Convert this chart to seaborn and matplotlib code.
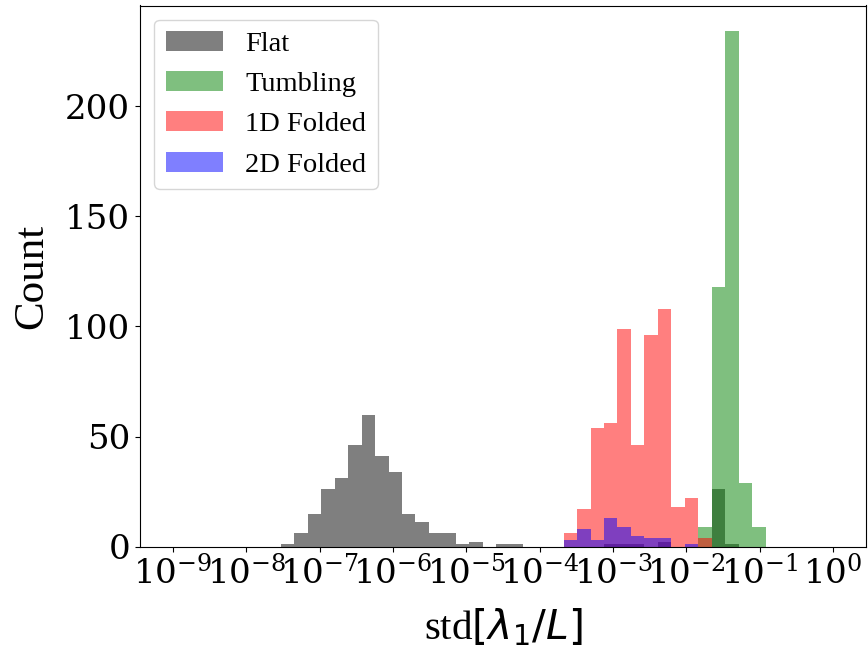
import numpy as np
import pandas as pd
import matplotlib
matplotlib.use("Agg")
import matplotlib.pyplot as plt
from matplotlib.ticker import NullLocator
import seaborn as sns

# Log-spaced bins: 50 edges from 1e-9 to 1e0 (given as log10 values)
log_edges = np.linspace(-9, 0, 50)
centers = 10 ** ((log_edges[:-1] + log_edges[1:]) / 2)

# Counts per bin for each state (49 bins)
flat = np.zeros(49)
flat[8:26] = [1, 6, 15, 26, 31, 46, 60, 41, 34, 15, 11, 6, 6, 1, 2, 0, 1, 1]
flat[32:37] = [1, 1, 1, 0, 2]
flat[40:42] = [26, 1]

tumbling = np.zeros(49)
tumbling[39:44] = [9, 118, 234, 29, 9]

folded_1d = np.zeros(49)
folded_1d[29:40] = [6, 17, 54, 56, 99, 46, 96, 108, 18, 22, 4]

folded_2d = np.zeros(49)
folded_2d[29:39] = [3, 8, 3, 13, 9, 5, 4, 4, 0, 1]

labels = ["Flat", "Tumbling", "1D Folded", "2D Folded"]
colors = ["k", "g", "r", "b"]
series = [flat, tumbling, folded_1d, folded_2d]
xtick_exponents = np.arange(-9, 1)

plt.rcParams["font.family"] = ["Liberation Serif", "DejaVu Serif"]

fig, ax = plt.subplots(figsize=(8.68, 6.51), dpi=100)
fig.subplots_adjust(left=140 / 868, right=866 / 868, top=1 - 5.5 / 651, bottom=1 - 546.7 / 651)

for counts, lab, col in zip(series, labels, colors):
    df = pd.DataFrame({"value": centers, "count": counts})
    sns.histplot(data=df, x="value", weights="count", bins=list(log_edges), log_scale=True,
                 color=col, alpha=0.5, linewidth=0, edgecolor="none",
                 label=lab, ax=ax)

ax.set_xticks(10.0 ** xtick_exponents)
ax.xaxis.set_minor_locator(NullLocator())
ax.tick_params(labelsize=24.5, labelfontfamily="DejaVu Serif")
ax.set_xlabel(r"std$[\lambda_1/L]$", fontsize=29.5, labelpad=11)
ax.set_ylabel("Count", fontsize=31, labelpad=10)
ax.legend(loc="upper left", fontsize=20.5)

fig.savefig("out.png", dpi=100)
